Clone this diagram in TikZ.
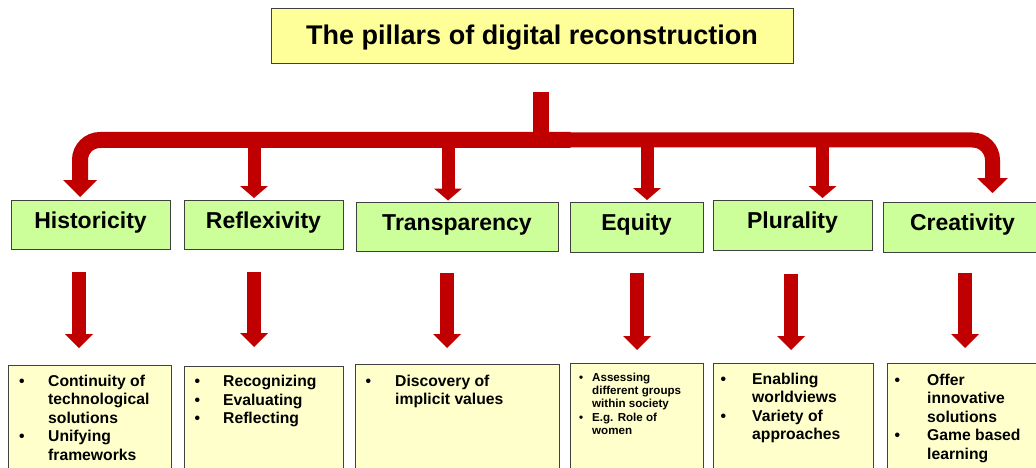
\documentclass[tikz,border=0pt]{standalone}
\usepackage{fontspec}
\setmainfont{Liberation Sans}
\usetikzlibrary{arrows.meta}
\definecolor{pillarred}{HTML}{C00000}
\definecolor{titlefill}{HTML}{FFFF99}
\definecolor{pillarfill}{HTML}{CCFF99}
\definecolor{notefill}{HTML}{FFFFCC}
\definecolor{edge}{HTML}{404040}
\begin{document}
\begin{tikzpicture}[x=1pt,y=-1pt,
  box/.style={draw=edge, line width=0.9pt, inner sep=0pt, outer sep=0pt},
  titlebox/.style={box, fill=titlefill, font=\fontsize{27}{32}\selectfont\bfseries,
    text height=20pt, text depth=4pt},
  pillar/.style={box, fill=pillarfill, minimum height=49pt,
    font=\fontsize{23}{28}\selectfont\bfseries, text height=16.5pt, text depth=9pt},
  note/.style={box, fill=notefill, minimum height=125pt, anchor=north west},
  notetext/.style={anchor=base west, inner sep=0pt,
    font=\fontsize{15.7}{18.5}\selectfont\bfseries},
  smalltext/.style={anchor=base west, inner sep=0pt,
    font=\fontsize{11.6}{13}\selectfont\bfseries},
  trunk/.style={draw=pillarred, line width=16pt},
  branch/.style={draw=pillarred, line width=13pt,
    -{Triangle[width=28pt,length=12pt,line width=0pt]}},
  drop/.style={draw=pillarred, line width=14pt,
    -{Triangle[width=28pt,length=14pt,line width=0pt]}},
]
\useasboundingbox (0,0) rectangle (1036,468);

% title
\node[titlebox, minimum width=522pt, minimum height=55pt] (title) at (532,36.3)
  {The pillars of digital reconstruction};

% the six pillars
\node[pillar, minimum width=159pt] (hist) at (90.5,224.5) {Historicity};
\node[pillar, minimum width=159pt] (refl) at (263.5,224.5) {Reflexivity};
\node[pillar, minimum width=202pt] (trans) at (457,227) {Transparency};
\node[pillar, minimum width=133pt, minimum height=50pt] (equi) at (636.5,227) {Equity};
\node[pillar, minimum width=159pt, minimum height=50pt] (plur) at (792.5,225) {Plurality};
\node[pillar, minimum width=159pt, minimum height=50pt] (crea) at (962.5,227) {Creativity};

% note boxes below each pillar
\node[note, minimum width=163pt] (histn) at (8,365) {};
\node[note, minimum width=159pt] (refln) at (184,366) {};
\node[note, minimum width=204pt] (transn) at (355,364) {};
\node[note, minimum width=133pt] (equin) at (570,363) {};
\node[note, minimum width=160pt] (plurn) at (713,363) {};
\node[note, minimum width=160pt] (crean) at (887,363) {};

\node[notetext] (histt) at (19,386) {\begin{tabular}[t]{@{}p{29pt}@{}l@{}}
  \textbullet & Continuity of\\ & technological\\ & solutions\\
  \textbullet & Unifying\\ & frameworks\end{tabular}};
\node[notetext] (reflt) at (194.3,386.5) {\begin{tabular}[t]{@{}p{28.7pt}@{}l@{}}
  \textbullet & Recognizing\\ \textbullet & Evaluating\\ \textbullet & Reflecting\end{tabular}};
\node[notetext] (transt) at (365.3,386) {\begin{tabular}[t]{@{}p{29.7pt}@{}l@{}}
  \textbullet & Discovery of\\ & implicit values\end{tabular}};
\node[smalltext] (equit) at (579,381) {\begin{tabular}[t]{@{}p{13pt}@{}l@{}}
  \textbullet & Assessing\\ & different groups\\ & within society\\[1.7pt]
  \textbullet & E.g. Role of\\ & women\end{tabular}};
\node[notetext] (plurt) at (720.3,384) {\begin{tabular}[t]{@{}p{31.7pt}@{}l@{}}
  \textbullet & Enabling\\ & worldviews\\ \textbullet & Variety of\\ & approaches\end{tabular}};
\node[notetext] (creat) at (894.3,385) {\begin{tabular}[t]{@{}p{32.7pt}@{}l@{}}
  \textbullet & Offer\\ & innovative\\ & solutions\\
  \textbullet & Game based\\ & learning\end{tabular}};

% branching arrow from the title down to the pillars
\coordinate (hub) at (540.5,92);
\coordinate (bar) at (540.5,140);
\draw[trunk] (hub) -- (bar);
\draw[trunk, rounded corners=20pt,
  -{Triangle[width=34pt,length=17pt,line width=0pt]}, shorten >=3pt]
  ([xshift=30pt]bar) -| ([xshift=-10.5pt]hist.north);
\draw[trunk, line width=15pt, rounded corners=20pt,
  -{Triangle[width=31pt,length=15pt,line width=0pt]}, shorten >=9pt]
  (bar) -| ([xshift=30pt]crea.north);
\foreach \n/\dx in {refl/-9.5, trans/-9, equi/10.5, plur/30} {
  \path ([xshift=\dx pt]\n.north) coordinate (tip-\n);
  \draw[branch, shorten >=2pt] (tip-\n |- bar) -- (tip-\n);
}

% arrows from each pillar to its notes
\foreach \n/\m/\dx/\a/\b in {hist/histn/-11.5/23/17, refl/refln/-9.5/23/19,
    trans/transn/-10/21/16, equi/equin/0.5/21/13, plur/plurn/-1.5/24/13,
    crea/crean/2.5/21/15} {
  \path ([xshift=\dx pt]\n.south) coordinate (src-\n);
  \draw[drop, shorten <=\a pt, shorten >=\b pt] (src-\n) -- (src-\n |- \m.north);
}
\end{tikzpicture}
\end{document}
